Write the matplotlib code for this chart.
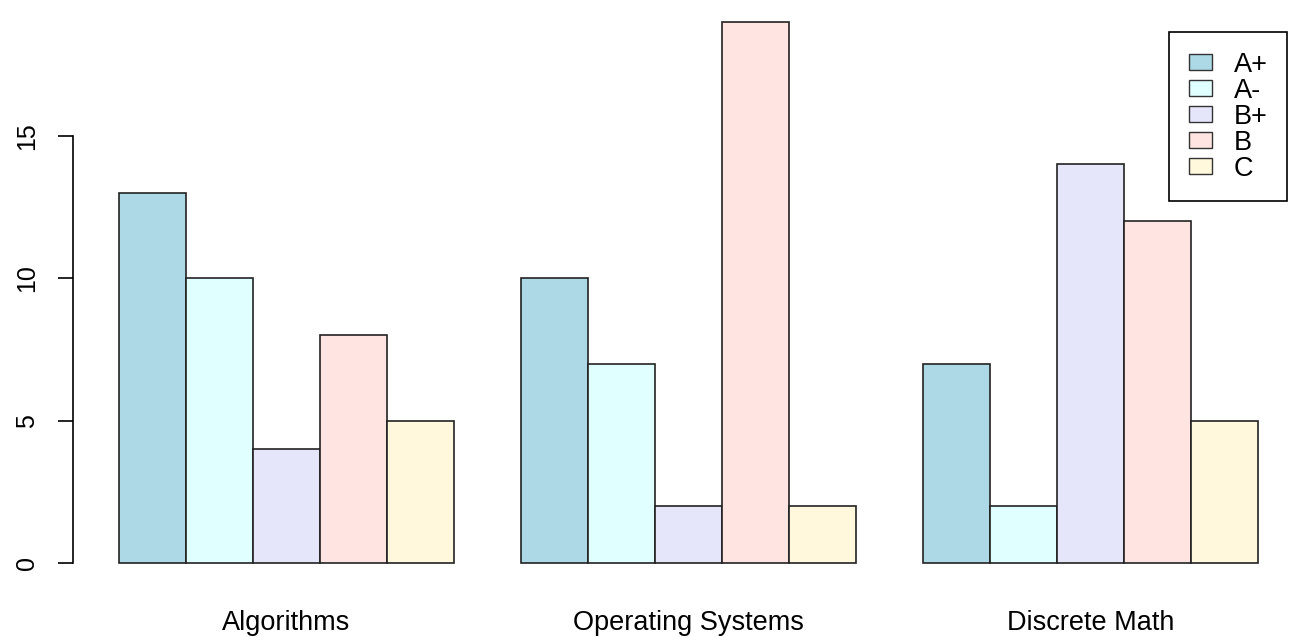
import matplotlib
matplotlib.use("Agg")
import matplotlib.pyplot as plt
from matplotlib.patches import Patch

plt.rcParams['font.family'] = ['Liberation Sans', 'DejaVu Sans']

# data
courses = ["Algorithms", "Operating Systems", "Discrete Math"]
grades = ["A+", "A-", "B+", "B", "C"]
algorithms = [13, 10, 4, 8, 5]
operating_systems = [10, 7, 2, 19, 2]
discrete_math = [7, 2, 14, 12, 5]
colors = ["#add8e6", "#e0ffff", "#e6e6fa", "#ffe4e1", "#fff8dc"]

W, H = 1290, 637
fig = plt.figure(figsize=(W / 100, H / 100), dpi=100)
ax = fig.add_axes([73.4 / W, 52.4 / H, 1230.2 / W, 584.2 / H])

counts = [algorithms, operating_systems, discrete_math]
centers = []
for g, vals in enumerate(counts):
    start = 1 + g * 6
    for i, v in enumerate(vals):
        ax.bar(start + i, v, width=1, align='edge', color=colors[i],
               edgecolor='#222222', linewidth=1.2)
    centers.append(start + len(vals) / 2)

ax.set_xlim(0.32, 18.68)
ax.set_ylim(-0.76, 19.76)
for s in ['top', 'right', 'bottom']:
    ax.spines[s].set_visible(False)
ax.spines['left'].set_bounds(0, 15)
ax.spines['left'].set_linewidth(1.2)
ax.set_yticks([0, 5, 10, 15])
ax.set_yticklabels(['0', '5', '10', '15'], rotation=90, va='center', fontsize=18)
ax.tick_params(axis='y', length=11, width=1.2, pad=14)
ax.set_xticks([])

for c, name in zip(centers, courses):
    ax.text(c, -2.1, name, ha='center', va='center', fontsize=19.5)

handles = [Patch(facecolor=colors[i], edgecolor='#333333', label=grades[i])
           for i in range(len(grades))]
leg = fig.legend(handles=handles, loc='upper right',
                 bbox_to_anchor=(1287 / W, (H - 32) / H), fancybox=False,
                 framealpha=1, edgecolor='black', fontsize=19.5,
                 handlelength=0.85, handleheight=0.5, labelspacing=0.0,
                 handletextpad=0.8, borderpad=0.72, borderaxespad=0)
leg.get_frame().set_linewidth(1.2)

fig.savefig("out.png", dpi=100)
